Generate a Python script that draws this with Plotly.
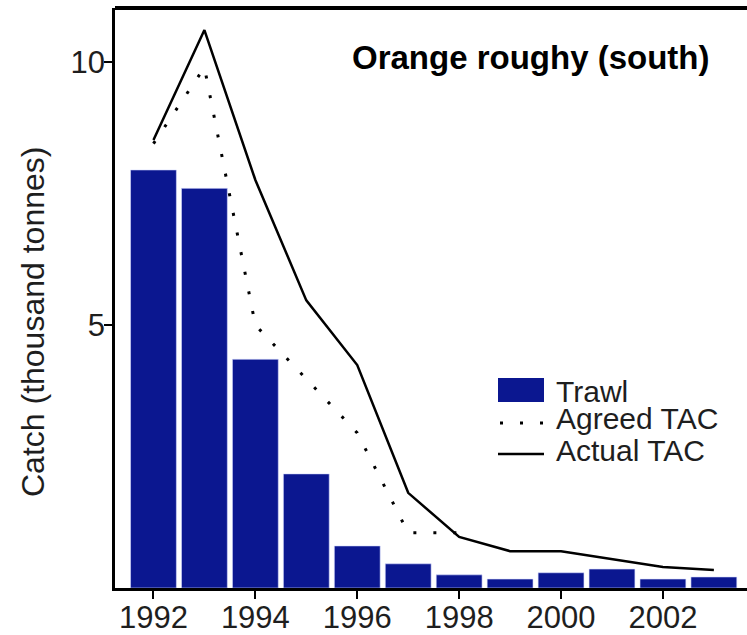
import plotly.graph_objects as go

# data (thousand tonnes)
years = [1992, 1993, 1994, 1995, 1996, 1997, 1998, 1999, 2000, 2001, 2002, 2003]
trawl = [7.95, 7.60, 4.35, 2.17, 0.80, 0.46, 0.25, 0.17, 0.29, 0.36, 0.17, 0.21]

agreed_years = [1992, 1993, 1994, 1995, 1996, 1997, 1998]
agreed_tac = [8.45, 9.90, 5.00, 3.97, 2.95, 1.05, 1.05]

actual_years = years
actual_tac = [8.52, 10.61, 7.76, 5.47, 4.24, 1.81, 0.97, 0.70, 0.70, 0.55, 0.40, 0.34]

tick_years = [1992, 1994, 1996, 1998, 2000, 2002]
y_ticks = [5, 10]

FONT = "Liberation Sans, Arial, Helvetica, sans-serif"
BAR_BLUE = "#0b1790"
TEXT = "#1e1e1e"

W, H = 747, 635
L, R, T, B = 115, 0, 8, 47


def px(x):
    # pixel -> paper x
    return (x - L) / (W - L - R)


def py(y):
    # pixel -> paper y
    return (H - B - y) / (H - T - B)


fig = go.Figure()

fig.add_trace(go.Bar(
    x=years, y=trawl, name="Trawl",
    marker=dict(color=BAR_BLUE, line=dict(color="#d8ddff", width=0.6)),
))
fig.add_trace(go.Scatter(
    x=agreed_years, y=agreed_tac, name="Agreed TAC", mode="lines",
    line=dict(color="black", width=3, dash="3px,17px"),
))
fig.add_trace(go.Scatter(
    x=actual_years, y=actual_tac, name="Actual TAC", mode="lines",
    line=dict(color="black", width=2.5),
))

shapes = [
    # thick frame line at top
    dict(type="line", xref="paper", yref="paper", x0=0, x1=1, y0=1, y1=1,
         line=dict(color="black", width=4)),
    # legend swatches
    dict(type="rect", xref="paper", yref="paper",
         x0=px(498), x1=px(544), y0=py(402), y1=py(378),
         fillcolor=BAR_BLUE, line=dict(width=0)),
    dict(type="line", xref="paper", yref="paper",
         x0=px(500), x1=px(546), y0=py(423), y1=py(423),
         line=dict(color="black", width=3, dash="3px,17px")),
    dict(type="line", xref="paper", yref="paper",
         x0=px(498), x1=px(544), y0=py(454), y1=py(454),
         line=dict(color="black", width=2.5)),
]

annotations = [
    dict(text="<b>Orange roughy (south)</b>", xref="paper", yref="paper",
         x=px(531), y=py(57), xanchor="center", yanchor="middle",
         showarrow=False, font=dict(family=FONT, size=33, color="black")),
    dict(text="Catch (thousand tonnes)", xref="paper", yref="paper",
         x=px(33), y=py(322), xanchor="center", yanchor="middle",
         textangle=-90, showarrow=False,
         font=dict(family=FONT, size=32, color=TEXT)),
]
for label, yc in [("Trawl", 391), ("Agreed TAC", 419), ("Actual TAC", 450)]:
    annotations.append(dict(
        text=label, xref="paper", yref="paper", x=px(554), y=py(yc),
        xanchor="left", yanchor="middle", showarrow=False,
        font=dict(family=FONT, size=30, color=TEXT)))

fig.update_layout(
    width=W, height=H,
    margin=dict(l=L, r=R, t=T, b=B, pad=0),
    paper_bgcolor="white", plot_bgcolor="white",
    showlegend=False,
    bargap=0.1,
    font=dict(family=FONT, size=31, color=TEXT),
    shapes=shapes,
    annotations=annotations,
    xaxis=dict(
        range=[1991.245, 2003.65], tickvals=tick_years,
        showgrid=False, zeroline=False, automargin=False,
        showline=True, linecolor="black", linewidth=2.5,
        ticks="outside", ticklen=8, tickwidth=1.5, tickcolor="black",
        ticklabelstandoff=-8,
    ),
    yaxis=dict(
        range=[0, 11.03], tickvals=y_ticks,
        showgrid=False, zeroline=False, automargin=False,
        showline=True, linecolor="black", linewidth=2.5,
        ticks="outside", ticklen=8, tickwidth=1.5, tickcolor="black",
        ticklabelstandoff=-7,
    ),
)

# drop the default page margin so the figure sits at the window origin
fig.write_html(
    "out.html",
    config={"displayModeBar": False},
    post_script="document.body.style.margin='0';document.body.style.overflow='hidden';",
)
